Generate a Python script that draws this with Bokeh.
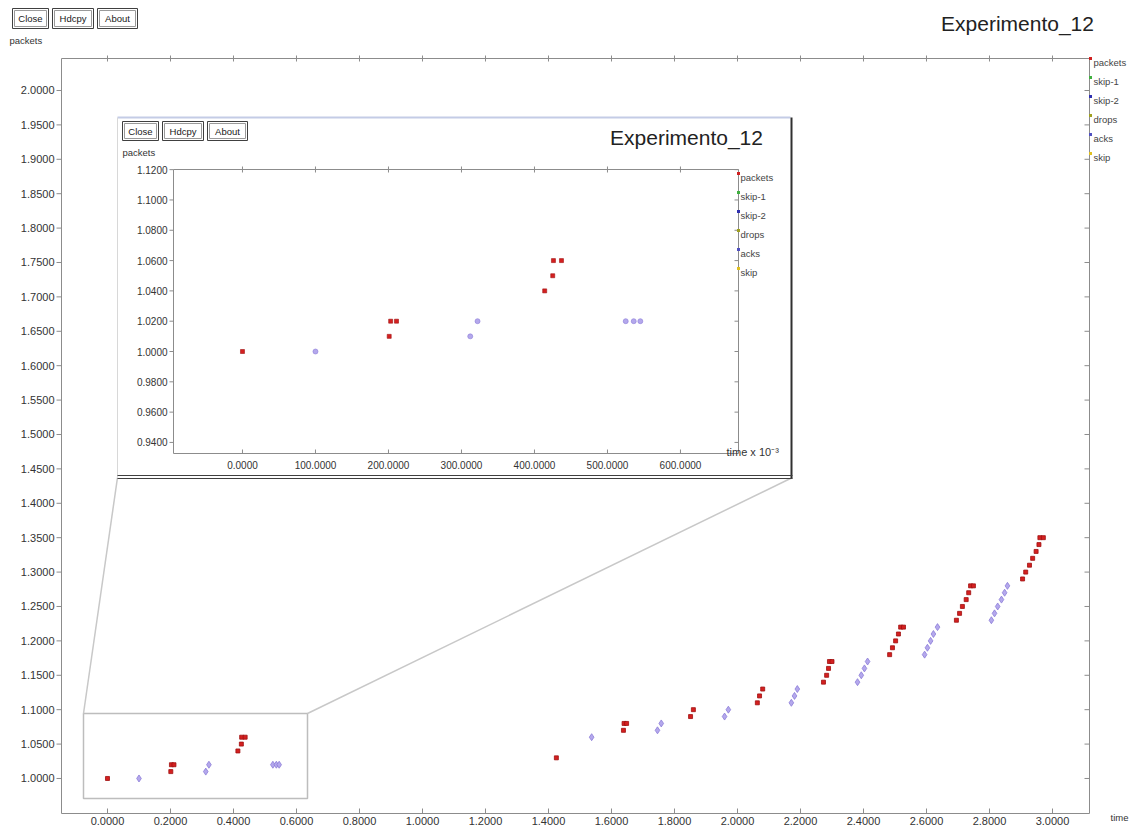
import math
from bokeh.plotting import figure
from bokeh.models import Range1d
from bokeh.embed import file_html
from bokeh.resources import INLINE
from bokeh.core.properties import value

FONT = "Liberation Sans"

# ---------------- data ----------------
# "packets" series (time in s, packet number)
pkt_t = [0.000, 0.201, 0.203, 0.211, 0.414, 0.425, 0.426, 0.437,
         1.425, 1.638, 1.640, 1.648, 1.851, 1.860,
         2.063, 2.070, 2.080,
         2.273, 2.283, 2.289, 2.292, 2.300,
         2.483, 2.492, 2.502, 2.511, 2.518, 2.527,
         2.695, 2.705, 2.714, 2.726, 2.734, 2.740, 2.749,
         2.905, 2.915, 2.927, 2.937, 2.948, 2.957, 2.960, 2.971]
pkt_y = [1.00, 1.01, 1.02, 1.02, 1.04, 1.05, 1.06, 1.06,
         1.03, 1.07, 1.08, 1.08, 1.09, 1.10,
         1.11, 1.12, 1.13,
         1.14, 1.15, 1.16, 1.17, 1.17,
         1.18, 1.19, 1.20, 1.21, 1.22, 1.22,
         1.23, 1.24, 1.25, 1.26, 1.27, 1.28, 1.28,
         1.29, 1.30, 1.31, 1.32, 1.33, 1.34, 1.35, 1.35]
# "acks" series
ack_t = [0.100, 0.312, 0.322, 0.525, 0.536, 0.545,
         1.537, 1.746, 1.758, 1.959, 1.971,
         2.171, 2.181, 2.190,
         2.381, 2.393, 2.403, 2.413,
         2.594, 2.603, 2.613, 2.622, 2.635,
         2.806, 2.816, 2.826, 2.838, 2.848, 2.857]
ack_y = [1.00, 1.01, 1.02, 1.02, 1.02, 1.02,
         1.06, 1.07, 1.08, 1.09, 1.10,
         1.11, 1.12, 1.13,
         1.14, 1.15, 1.16, 1.17,
         1.18, 1.19, 1.20, 1.21, 1.22,
         1.23, 1.24, 1.25, 1.26, 1.27, 1.28]

x_ticks = [0.0, 0.2, 0.4, 0.6, 0.8, 1.0, 1.2, 1.4, 1.6, 1.8, 2.0, 2.2, 2.4, 2.6, 2.8, 3.0]
y_ticks = [1.00, 1.05, 1.10, 1.15, 1.20, 1.25, 1.30, 1.35, 1.40, 1.45, 1.50,
           1.55, 1.60, 1.65, 1.70, 1.75, 1.80, 1.85, 1.90, 1.95, 2.00]
inset_x_ticks = [0, 100, 200, 300, 400, 500, 600]          # time x 10^-3
inset_y_ticks = [0.94, 0.96, 0.98, 1.00, 1.02, 1.04, 1.06, 1.08, 1.10, 1.12]
legend_names = ["packets", "skip-1", "skip-2", "drops", "acks", "skip"]
legend_colors = ["#d02020", "#40b040", "#3030b0", "#a0a020", "#5050c0", "#e0c020"]
title_text = "Experimento_12"
buttons = ["Close", "Hdcpy", "About"]
x_label = "time"
y_label = "packets"
inset_x_label = "time x 10\u207b\u00b3"

# ---------------- layout (pixels, y downwards) ----------------
W, H = 1137, 828
FL, FR, FT, FB = 61, 1089, 58, 813          # main plot frame
X0, X1 = -0.146, 3.1175
Y0, Y1 = 0.9491, 2.0465
IFL, IFR, IFT, IFB = 173, 738, 169, 453     # inset plot frame
IX0, IX1 = -94.5, 679.5
IY0, IY1 = 0.9327, 1.1201
WIN = (117, 792, 117, 477)                  # inset window l, r, t, b
ZOOM = (83, 307, 713, 798)                  # zoom rectangle l, r, t, b
BTN_W = [36, 41, 40]

AX = "#8c8c8c"
TXT = "#333333"
RED = "#d42020"
RED_LINE = "#a01010"
LAV = "#b4a8ec"
LAV_LINE = "#8c7cd8"

p = figure(width=W, height=H, x_range=Range1d(0, W), y_range=Range1d(H, 0),
           x_axis_location=None, y_axis_location=None, min_border=0,
           output_backend="svg", toolbar_location=None)
p.outline_line_color = None
p.background_fill_color = "white"
p.border_fill_color = "white"
p.grid.visible = False


def ptext(xs, ys, texts, size="10px", align="left", color=TXT, baseline="middle"):
    p.text(x=xs, y=ys, text=texts, text_font=value(FONT), text_font_size=size,
           text_align=align, text_baseline=baseline, text_color=color)


def draw_axes(sub, x0, x1, y0, y1, xt, yt, l, r, t, b, size, lab_x_off, lab_y_off,
              left_out, bottom_in, top_len, right_in):
    dx = (x1 - x0) / (r - l)    # data units per pixel
    dy = (y1 - y0) / (b - t)
    nx, ny = len(xt), len(yt)
    sub.quad(left=[x0], right=[x1], bottom=[y0], top=[y1], fill_color=None, line_color=AX, line_width=1)
    # left ticks (outwards)
    sub.segment(x0=[x0] * ny, y0=yt, x1=[x0 - left_out * dx] * ny, y1=yt, line_color=AX)
    # right ticks (inwards)
    sub.segment(x0=[x1] * ny, y0=yt, x1=[x1 - right_in * dx] * ny, y1=yt, line_color=AX)
    # bottom ticks (inwards)
    sub.segment(x0=xt, y0=[y0] * nx, x1=xt, y1=[y0 + bottom_in * dy] * nx, line_color=AX)
    # top ticks (across)
    sub.segment(x0=xt, y0=[y1 - top_len * dy] * nx, x1=xt, y1=[y1 + top_len * dy] * nx, line_color=AX)
    sub.text([x0] * ny, yt, text=["%.4f" % v for v in yt], x_offset=lab_x_off,
             text_align="right", text_baseline="middle", text_font=value(FONT),
             text_font_size=size, text_color=TXT)
    sub.text(xt, [y0] * nx, text=["%.4f" % v for v in xt], y_offset=lab_y_off,
             text_align="center", text_baseline="top", text_font=value(FONT),
             text_font_size=size, text_color=TXT)


def buttons_row(x_left, top, bottom, gap=4):
    x = x_left
    for b, w in zip(buttons, BTN_W):
        p.quad(left=[x], right=[x + w], top=[top], bottom=[bottom],
               fill_color="white", line_color="#404040", line_width=1)
        p.quad(left=[x + 2], right=[x + w - 2], top=[top + 2], bottom=[bottom - 2],
               fill_color="white", line_color="#9a9a9a", line_width=1)
        ptext([x + w / 2], [(top + bottom) / 2], [b], size="9.5px", align="center", color="#202020")
        x += w + gap


# ---------------- main plot ----------------
main = p.subplot(x_source=Range1d(X0, X1), y_source=Range1d(Y0, Y1),
                 x_target=Range1d(FL, FR), y_target=Range1d(FB, FT))
draw_axes(main, X0, X1, Y0, Y1, x_ticks, y_ticks, FL, FR, FT, FB, "11px", -7, 3,
          left_out=5, bottom_in=5, top_len=3, right_in=5)

main.scatter(ack_t, ack_y, marker="diamond", size=7, fill_color=LAV, line_color=LAV_LINE, line_width=0.8)
main.scatter(pkt_t, pkt_y, marker="square", size=4, fill_color=RED, line_color=RED_LINE, line_width=0.8)

# zoom rectangle and connecting lines (pixel space)
zl, zr, zt, zb = ZOOM
wl, wr, wt, wb = WIN
p.quad(left=[zl], right=[zr], top=[zt], bottom=[zb], fill_color=None, line_color="#bdbdbd", line_width=1.5)
p.segment(x0=[zl, zr], y0=[zt, zt], x1=[wl, wr], y1=[wb, wb], line_color="#c8c8c8", line_width=1.5)

# ---------------- inset window ----------------
p.quad(left=[wl], right=[wr], top=[wt - 1], bottom=[wb], fill_color="white", line_color=None)
p.segment(x0=[wl], y0=[wt], x1=[wr - 2], y1=[wt], line_color="#c4cce6", line_width=2)
p.segment(x0=[wl], y0=[wt], x1=[wl], y1=[wb], line_color="#d8d8d8", line_width=1)
p.segment(x0=[wr - 1], y0=[wt], x1=[wr - 1], y1=[wb + 1], line_color="#303030", line_width=2)
p.segment(x0=[wl, wl], y0=[wb - 2, wb + 1], x1=[wr, wr], y1=[wb - 2, wb + 1], line_color="#404040", line_width=1)

ins = p.subplot(x_source=Range1d(IX0, IX1), y_source=Range1d(IY0, IY1),
                x_target=Range1d(IFL, IFR), y_target=Range1d(IFB, IFT))
ins.quad(left=[IX0], right=[IX1], bottom=[IY0], top=[IY1], fill_color="white", line_color=None)
draw_axes(ins, IX0, IX1, IY0, IY1, inset_x_ticks, inset_y_ticks, IFL, IFR, IFT, IFB, "10px", -6, 7,
          left_out=4, bottom_in=4, top_len=3, right_in=4)

ia = [(t * 1000, v) for t, v in zip(ack_t, ack_y) if t * 1000 <= IX1]
ip = [(t * 1000, v) for t, v in zip(pkt_t, pkt_y) if t * 1000 <= IX1]
ins.scatter([a[0] for a in ia], [a[1] for a in ia], marker="circle", size=5,
            fill_color=LAV, line_color=LAV_LINE, line_width=0.6)
ins.scatter([a[0] for a in ip], [a[1] for a in ip], marker="square", size=4,
            fill_color=RED, line_color=RED_LINE, line_width=0.6)

# ---------------- texts & window decorations ----------------
# main window
buttons_row(12, 8, 28)
ptext([9], [40], [y_label], size="9.5px")
ptext([1017], [23], [title_text], size="21px", align="center", color="#222222")
ptext([1110], [817], [x_label], size="9.5px")
ptext([1093] * 6, [62 + i * 19 for i in range(6)], legend_names, size="9.5px", color="#444444")
p.scatter([1090] * 6, [58 + i * 19 for i in range(6)], marker="square", size=3,
          fill_color=legend_colors, line_color=None)

# inset window
buttons_row(122, 121, 140)
ptext([122], [152], [y_label], size="9.5px")
ptext([686], [137], [title_text], size="21px", align="center", color="#222222")
ptext([726], [451], [inset_x_label], size="11px")
ptext([740] * 6, [177 + i * 19 for i in range(6)], legend_names, size="9.5px", color="#444444")
p.scatter([738] * 6, [173 + i * 19 for i in range(6)], marker="square", size=3,
          fill_color=legend_colors, line_color=None)

open("out.html", "w").write(file_html(p, INLINE))
